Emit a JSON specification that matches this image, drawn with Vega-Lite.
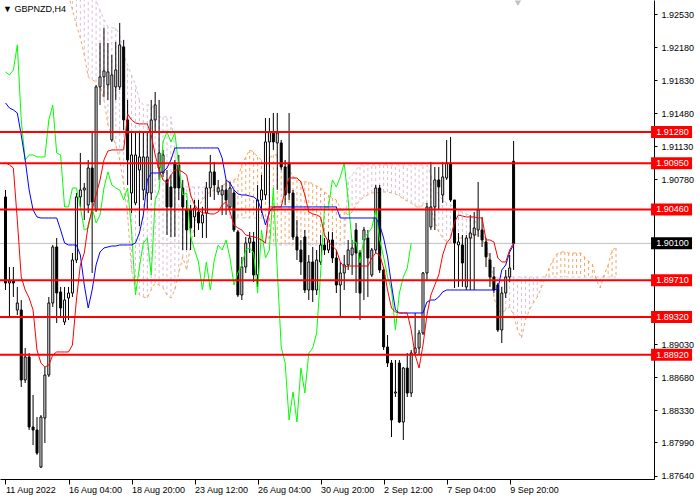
{
"$schema": "https://vega.github.io/schema/vega-lite/v6.json",
"width": 654, "height": 479,
"autosize": {"type": "none"},
"padding": {"left": 0, "top": 0, "right": 46, "bottom": 21},
"background": "white",
"title": {"text": "▼ GBPNZD,H4", "anchor": "start", "offset": -23, "dx": 4, "fontSize": 9, "fontWeight": "normal", "font": "Liberation Sans", "color": "black", "baseline": "bottom"},
"config": {"view": {"stroke": null}, "axis": {"grid": false, "domainColor": "black", "tickColor": "black", "labelColor": "black", "labelFont": "Liberation Sans", "labelFontSize": 9, "title": null, "labelOverlap": false}, "axisRight": {"labelOverlap": false, "labelFlush": false}},
"datasets": {
"candles": [
{"k":0,"o":1.90592,"h":1.90666,"l":1.89606,"c":1.89680},
{"k":1,"o":1.89680,"h":1.89850,"l":1.89320,"c":1.89701},
{"k":2,"o":1.89701,"h":1.89850,"l":1.89532,"c":1.89680},
{"k":3,"o":1.89394,"h":1.89638,"l":1.89341,"c":1.89468},
{"k":4,"o":1.89394,"h":1.89500,"l":1.88578,"c":1.88652},
{"k":5,"o":1.88652,"h":1.88991,"l":1.88620,"c":1.88896},
{"k":6,"o":1.88896,"h":1.88938,"l":1.88122,"c":1.88154},
{"k":7,"o":1.88154,"h":1.88493,"l":1.87963,"c":1.88122},
{"k":8,"o":1.88122,"h":1.88260,"l":1.87858,"c":1.87878},
{"k":9,"o":1.87730,"h":1.88281,"l":1.87719,"c":1.88260},
{"k":10,"o":1.88249,"h":1.88790,"l":1.87984,"c":1.88705},
{"k":11,"o":1.88705,"h":1.89532,"l":1.88684,"c":1.89468},
{"k":12,"o":1.89468,"h":1.90083,"l":1.89426,"c":1.90062},
{"k":13,"o":1.90062,"h":1.90157,"l":1.89256,"c":1.89574},
{"k":14,"o":1.89585,"h":1.89638,"l":1.89320,"c":1.89415},
{"k":15,"o":1.89267,"h":1.89638,"l":1.89235,"c":1.89500},
{"k":16,"o":1.89521,"h":1.89638,"l":1.89288,"c":1.89574},
{"k":17,"o":1.89574,"h":1.89998,"l":1.89532,"c":1.89924},
{"k":18,"o":1.89924,"h":1.90634,"l":1.89892,"c":1.90592},
{"k":19,"o":1.90592,"h":1.91058,"l":1.90486,"c":1.90666},
{"k":20,"o":1.90666,"h":1.90740,"l":1.90348,"c":1.90687},
{"k":21,"o":1.90507,"h":1.90984,"l":1.90422,"c":1.90899},
{"k":22,"o":1.90899,"h":1.91281,"l":1.89786,"c":1.90539},
{"k":23,"o":1.90454,"h":1.91779,"l":1.90433,"c":1.91758},
{"k":24,"o":1.91758,"h":1.92224,"l":1.91567,"c":1.91864},
{"k":25,"o":1.91864,"h":1.92383,"l":1.91652,"c":1.91927},
{"k":26,"o":1.91779,"h":1.92224,"l":1.91620,"c":1.91917},
{"k":27,"o":1.91196,"h":1.92097,"l":1.91175,"c":1.91885},
{"k":28,"o":1.91758,"h":1.92235,"l":1.91620,"c":1.91938},
{"k":29,"o":1.91758,"h":1.92436,"l":1.91726,"c":1.92203},
{"k":30,"o":1.92182,"h":1.92256,"l":1.91302,"c":1.91408},
{"k":31,"o":1.91408,"h":1.91620,"l":1.90719,"c":1.90984},
{"k":32,"o":1.90634,"h":1.91270,"l":1.90422,"c":1.91037},
{"k":33,"o":1.90528,"h":1.91270,"l":1.90507,"c":1.91037},
{"k":34,"o":1.90878,"h":1.91270,"l":1.90284,"c":1.91016},
{"k":35,"o":1.90666,"h":1.91270,"l":1.90560,"c":1.91016},
{"k":36,"o":1.90634,"h":1.91270,"l":1.90454,"c":1.91016},
{"k":37,"o":1.90634,"h":1.91620,"l":1.90560,"c":1.91408},
{"k":38,"o":1.91408,"h":1.91705,"l":1.91281,"c":1.91567},
{"k":39,"o":1.90899,"h":1.91620,"l":1.90772,"c":1.91058},
{"k":40,"o":1.90846,"h":1.91090,"l":1.90804,"c":1.91037},
{"k":41,"o":1.90772,"h":1.90878,"l":1.90189,"c":1.90486},
{"k":42,"o":1.90698,"h":1.90825,"l":1.90168,"c":1.90486},
{"k":43,"o":1.90952,"h":1.90984,"l":1.90168,"c":1.90687},
{"k":44,"o":1.90931,"h":1.91037,"l":1.90560,"c":1.90687},
{"k":45,"o":1.90687,"h":1.90772,"l":1.90030,"c":1.90486},
{"k":46,"o":1.90454,"h":1.90560,"l":1.90030,"c":1.90242},
{"k":47,"o":1.90454,"h":1.90507,"l":1.90030,"c":1.90263},
{"k":48,"o":1.90380,"h":1.90560,"l":1.90168,"c":1.90475},
{"k":49,"o":1.90433,"h":1.90560,"l":1.90242,"c":1.90316},
{"k":50,"o":1.90316,"h":1.90486,"l":1.90157,"c":1.90401},
{"k":51,"o":1.90422,"h":1.90751,"l":1.90157,"c":1.90687},
{"k":52,"o":1.90687,"h":1.91037,"l":1.90592,"c":1.90857},
{"k":53,"o":1.90857,"h":1.90963,"l":1.90560,"c":1.90719},
{"k":54,"o":1.90645,"h":1.90772,"l":1.90613,"c":1.90687},
{"k":55,"o":1.90613,"h":1.90719,"l":1.90401,"c":1.90666},
{"k":56,"o":1.90666,"h":1.90772,"l":1.90401,"c":1.90560},
{"k":57,"o":1.90486,"h":1.90751,"l":1.90454,"c":1.90687},
{"k":58,"o":1.90634,"h":1.90666,"l":1.90221,"c":1.90242},
{"k":59,"o":1.90221,"h":1.90242,"l":1.89532,"c":1.89553},
{"k":60,"o":1.89553,"h":1.89956,"l":1.89500,"c":1.89850},
{"k":61,"o":1.89850,"h":1.90168,"l":1.89786,"c":1.90104},
{"k":62,"o":1.90104,"h":1.90221,"l":1.89998,"c":1.90157},
{"k":63,"o":1.90115,"h":1.90221,"l":1.89691,"c":1.89765},
{"k":64,"o":1.89765,"h":1.90719,"l":1.89638,"c":1.90560},
{"k":65,"o":1.90560,"h":1.90825,"l":1.90422,"c":1.90666},
{"k":66,"o":1.90613,"h":1.91429,"l":1.90560,"c":1.91175},
{"k":67,"o":1.91175,"h":1.91429,"l":1.90454,"c":1.91281},
{"k":68,"o":1.91281,"h":1.91482,"l":1.91090,"c":1.91175},
{"k":69,"o":1.91164,"h":1.91482,"l":1.90666,"c":1.91270},
{"k":70,"o":1.91164,"h":1.91196,"l":1.90878,"c":1.90910},
{"k":71,"o":1.90910,"h":1.90984,"l":1.90507,"c":1.90613},
{"k":72,"o":1.90952,"h":1.91482,"l":1.90560,"c":1.90634},
{"k":73,"o":1.90634,"h":1.90666,"l":1.90136,"c":1.90168},
{"k":74,"o":1.90168,"h":1.90348,"l":1.89924,"c":1.90030},
{"k":75,"o":1.90030,"h":1.90136,"l":1.89765,"c":1.89903},
{"k":76,"o":1.90168,"h":1.90242,"l":1.89574,"c":1.89606},
{"k":77,"o":1.89606,"h":1.89977,"l":1.89500,"c":1.89903},
{"k":78,"o":1.89903,"h":1.90062,"l":1.89479,"c":1.89606},
{"k":79,"o":1.89606,"h":1.90030,"l":1.89553,"c":1.89924},
{"k":80,"o":1.89903,"h":1.90189,"l":1.89871,"c":1.90083},
{"k":81,"o":1.90083,"h":1.90157,"l":1.89977,"c":1.90030},
{"k":82,"o":1.90030,"h":1.90221,"l":1.89998,"c":1.90136},
{"k":83,"o":1.90136,"h":1.90221,"l":1.89892,"c":1.89945},
{"k":84,"o":1.89945,"h":1.90030,"l":1.89574,"c":1.89659},
{"k":85,"o":1.89659,"h":1.89903,"l":1.89320,"c":1.89786},
{"k":86,"o":1.89786,"h":1.89977,"l":1.89606,"c":1.89871},
{"k":87,"o":1.89871,"h":1.90136,"l":1.89818,"c":1.90030},
{"k":88,"o":1.89977,"h":1.90136,"l":1.89765,"c":1.90051},
{"k":89,"o":1.90242,"h":1.90316,"l":1.89574,"c":1.89998},
{"k":90,"o":1.89998,"h":1.90030,"l":1.89288,"c":1.89574},
{"k":91,"o":1.90136,"h":1.90274,"l":1.89500,"c":1.90242},
{"k":92,"o":1.90157,"h":1.90242,"l":1.89532,"c":1.89945},
{"k":93,"o":1.89765,"h":1.90051,"l":1.89744,"c":1.90030},
{"k":94,"o":1.90030,"h":1.90719,"l":1.89998,"c":1.90687},
{"k":95,"o":1.90687,"h":1.90719,"l":1.89786,"c":1.89818},
{"k":96,"o":1.89818,"h":1.89850,"l":1.88970,"c":1.89002},
{"k":97,"o":1.89002,"h":1.89129,"l":1.88790,"c":1.88832},
{"k":98,"o":1.88832,"h":1.88864,"l":1.88048,"c":1.88228},
{"k":99,"o":1.88514,"h":1.88864,"l":1.88472,"c":1.88525},
{"k":100,"o":1.88832,"h":1.88864,"l":1.88196,"c":1.88207},
{"k":101,"o":1.88207,"h":1.88790,"l":1.88016,"c":1.88779},
{"k":102,"o":1.88779,"h":1.88938,"l":1.88472,"c":1.88514},
{"k":103,"o":1.88514,"h":1.88970,"l":1.88472,"c":1.88938},
{"k":104,"o":1.88938,"h":1.89362,"l":1.88917,"c":1.88991},
{"k":105,"o":1.88991,"h":1.89182,"l":1.88917,"c":1.89150},
{"k":106,"o":1.89150,"h":1.89797,"l":1.89129,"c":1.89786},
{"k":107,"o":1.89786,"h":1.90528,"l":1.89712,"c":1.90486},
{"k":108,"o":1.90274,"h":1.90963,"l":1.90242,"c":1.90486},
{"k":109,"o":1.90486,"h":1.90910,"l":1.90242,"c":1.90772},
{"k":110,"o":1.90772,"h":1.90910,"l":1.90454,"c":1.90698},
{"k":111,"o":1.90613,"h":1.90963,"l":1.90528,"c":1.90804},
{"k":112,"o":1.90793,"h":1.91196,"l":1.90772,"c":1.90952},
{"k":113,"o":1.90952,"h":1.91228,"l":1.90539,"c":1.90560},
{"k":114,"o":1.90560,"h":1.90560,"l":1.89627,"c":1.90104},
{"k":115,"o":1.90083,"h":1.90210,"l":1.89638,"c":1.90115},
{"k":116,"o":1.90083,"h":1.90189,"l":1.89638,"c":1.89892},
{"k":117,"o":1.89638,"h":1.90189,"l":1.89606,"c":1.90157},
{"k":118,"o":1.90157,"h":1.90401,"l":1.89606,"c":1.90210},
{"k":119,"o":1.90189,"h":1.90433,"l":1.89606,"c":1.90263},
{"k":120,"o":1.90242,"h":1.90751,"l":1.90168,"c":1.90454},
{"k":121,"o":1.90242,"h":1.90380,"l":1.90062,"c":1.90136},
{"k":122,"o":1.90115,"h":1.90157,"l":1.89850,"c":1.89956},
{"k":123,"o":1.89924,"h":1.89998,"l":1.89638,"c":1.89744},
{"k":124,"o":1.89744,"h":1.89850,"l":1.89574,"c":1.89606},
{"k":125,"o":1.89659,"h":1.89680,"l":1.89161,"c":1.89182},
{"k":126,"o":1.89182,"h":1.89638,"l":1.89044,"c":1.89574},
{"k":127,"o":1.89574,"h":1.89818,"l":1.89521,"c":1.89744},
{"k":128,"o":1.89744,"h":1.89977,"l":1.89691,"c":1.89839},
{"k":129,"o":1.90970,"h":1.91185,"l":1.89818,"c":1.90100}
],
"ichi": [
{"k":0,"t":1.90952,"kj":1.91588,"ch":1.91917},
{"k":1,"t":1.90931,"kj":1.91535,"ch":1.91885},
{"k":2,"t":1.90899,"kj":1.91514,"ch":1.91938},
{"k":3,"t":1.90348,"kj":1.91482,"ch":1.92203},
{"k":4,"t":1.89744,"kj":1.91249,"ch":1.91408},
{"k":5,"t":1.89606,"kj":1.90984,"ch":1.90984},
{"k":6,"t":1.89521,"kj":1.90666,"ch":1.91037},
{"k":7,"t":1.89394,"kj":1.90454,"ch":1.91037},
{"k":8,"t":1.88970,"kj":1.90380,"ch":1.91016},
{"k":9,"t":1.88832,"kj":1.90369,"ch":1.91016},
{"k":10,"t":1.88790,"kj":1.90369,"ch":1.91016},
{"k":11,"t":1.88811,"kj":1.90369,"ch":1.91408},
{"k":12,"t":1.88917,"kj":1.90369,"ch":1.91567},
{"k":13,"t":1.88949,"kj":1.90369,"ch":1.91058},
{"k":14,"t":1.88949,"kj":1.90242,"ch":1.91037},
{"k":15,"t":1.88949,"kj":1.90104,"ch":1.90486},
{"k":16,"t":1.88949,"kj":1.90083,"ch":1.90486},
{"k":17,"t":1.89023,"kj":1.90083,"ch":1.90687},
{"k":18,"t":1.89500,"kj":1.90083,"ch":1.90687},
{"k":19,"t":1.89871,"kj":1.89977,"ch":1.90486},
{"k":20,"t":1.89998,"kj":1.89659,"ch":1.90242},
{"k":21,"t":1.90295,"kj":1.89415,"ch":1.90263},
{"k":22,"t":1.90454,"kj":1.89606,"ch":1.90475},
{"k":23,"t":1.90613,"kj":1.89871,"ch":1.90316},
{"k":24,"t":1.90772,"kj":1.90009,"ch":1.90401},
{"k":25,"t":1.90984,"kj":1.90051,"ch":1.90687},
{"k":26,"t":1.91079,"kj":1.90062,"ch":1.90857},
{"k":27,"t":1.91090,"kj":1.90072,"ch":1.90719},
{"k":28,"t":1.91090,"kj":1.90072,"ch":1.90687},
{"k":29,"t":1.91090,"kj":1.90083,"ch":1.90666},
{"k":30,"t":1.91090,"kj":1.90083,"ch":1.90560},
{"k":31,"t":1.91472,"kj":1.90083,"ch":1.90687},
{"k":32,"t":1.91408,"kj":1.90083,"ch":1.90242},
{"k":33,"t":1.91376,"kj":1.90104,"ch":1.89553},
{"k":34,"t":1.91366,"kj":1.90210,"ch":1.89850},
{"k":35,"t":1.91366,"kj":1.90401,"ch":1.90104},
{"k":36,"t":1.91366,"kj":1.90772,"ch":1.90157},
{"k":37,"t":1.91249,"kj":1.90846,"ch":1.89765},
{"k":38,"t":1.91037,"kj":1.90846,"ch":1.90560},
{"k":39,"t":1.90878,"kj":1.90846,"ch":1.90666},
{"k":40,"t":1.90772,"kj":1.90857,"ch":1.91175},
{"k":41,"t":1.90740,"kj":1.90899,"ch":1.91281},
{"k":42,"t":1.90825,"kj":1.90984,"ch":1.91175},
{"k":43,"t":1.90878,"kj":1.91111,"ch":1.91270},
{"k":44,"t":1.90878,"kj":1.91111,"ch":1.90910},
{"k":45,"t":1.90857,"kj":1.91111,"ch":1.90613},
{"k":46,"t":1.90825,"kj":1.91111,"ch":1.90634},
{"k":47,"t":1.90613,"kj":1.91111,"ch":1.90168},
{"k":48,"t":1.90507,"kj":1.91111,"ch":1.90030},
{"k":49,"t":1.90454,"kj":1.91111,"ch":1.89903},
{"k":50,"t":1.90422,"kj":1.91111,"ch":1.89606},
{"k":51,"t":1.90422,"kj":1.91111,"ch":1.89903},
{"k":52,"t":1.90412,"kj":1.91111,"ch":1.89606},
{"k":53,"t":1.90412,"kj":1.91111,"ch":1.89924},
{"k":54,"t":1.90433,"kj":1.91111,"ch":1.90083},
{"k":55,"t":1.90507,"kj":1.91005,"ch":1.90030},
{"k":56,"t":1.90539,"kj":1.90772,"ch":1.90136},
{"k":57,"t":1.90433,"kj":1.90740,"ch":1.89945},
{"k":58,"t":1.90295,"kj":1.90666,"ch":1.89659},
{"k":59,"t":1.90263,"kj":1.90624,"ch":1.89786},
{"k":60,"t":1.90242,"kj":1.90613,"ch":1.89871},
{"k":61,"t":1.90189,"kj":1.90613,"ch":1.90030},
{"k":62,"t":1.90178,"kj":1.90602,"ch":1.90051},
{"k":63,"t":1.90168,"kj":1.90592,"ch":1.89998},
{"k":64,"t":1.90157,"kj":1.90560,"ch":1.89574},
{"k":65,"t":1.90136,"kj":1.90454,"ch":1.90242},
{"k":66,"t":1.90104,"kj":1.90295,"ch":1.89945},
{"k":67,"t":1.90486,"kj":1.90433,"ch":1.90030},
{"k":68,"t":1.90486,"kj":1.90486,"ch":1.90687},
{"k":69,"t":1.90486,"kj":1.90486,"ch":1.89818},
{"k":70,"t":1.90486,"kj":1.90486,"ch":1.89002},
{"k":71,"t":1.90666,"kj":1.90486,"ch":1.88832},
{"k":72,"t":1.90793,"kj":1.90486,"ch":1.88228},
{"k":73,"t":1.90793,"kj":1.90486,"ch":1.88525},
{"k":74,"t":1.90793,"kj":1.90486,"ch":1.88207},
{"k":75,"t":1.90751,"kj":1.90486,"ch":1.88779},
{"k":76,"t":1.90613,"kj":1.90486,"ch":1.88514},
{"k":77,"t":1.90433,"kj":1.90486,"ch":1.88938},
{"k":78,"t":1.90412,"kj":1.90486,"ch":1.88991},
{"k":79,"t":1.90401,"kj":1.90486,"ch":1.89150},
{"k":80,"t":1.90380,"kj":1.90486,"ch":1.89786},
{"k":81,"t":1.90189,"kj":1.90486,"ch":1.90486},
{"k":82,"t":1.90115,"kj":1.90486,"ch":1.90486},
{"k":83,"t":1.90072,"kj":1.90486,"ch":1.90772},
{"k":84,"t":1.90030,"kj":1.90486,"ch":1.90698},
{"k":85,"t":1.89903,"kj":1.90369,"ch":1.90804},
{"k":86,"t":1.89850,"kj":1.90369,"ch":1.90952},
{"k":87,"t":1.89860,"kj":1.90369,"ch":1.90560},
{"k":88,"t":1.89860,"kj":1.90369,"ch":1.90104},
{"k":89,"t":1.89860,"kj":1.90369,"ch":1.90115},
{"k":90,"t":1.89860,"kj":1.90369,"ch":1.89892},
{"k":91,"t":1.89860,"kj":1.90369,"ch":1.90157},
{"k":92,"t":1.89860,"kj":1.90369,"ch":1.90210},
{"k":93,"t":1.89945,"kj":1.90369,"ch":1.90263},
{"k":94,"t":1.89998,"kj":1.90369,"ch":1.90454},
{"k":95,"t":1.89977,"kj":1.90295,"ch":1.90136},
{"k":96,"t":1.89839,"kj":1.90157,"ch":1.89956},
{"k":97,"t":1.89606,"kj":1.89956,"ch":1.89744},
{"k":98,"t":1.89415,"kj":1.89659,"ch":1.89606},
{"k":99,"t":1.89373,"kj":1.89394,"ch":1.89182},
{"k":100,"t":1.89362,"kj":1.89362,"ch":1.89574},
{"k":101,"t":1.89362,"kj":1.89362,"ch":1.89744},
{"k":102,"t":1.89362,"kj":1.89362,"ch":1.89839},
{"k":103,"t":1.89182,"kj":1.89362,"ch":1.90100},
{"k":104,"t":1.88917,"kj":1.89362},
{"k":105,"t":1.88779,"kj":1.89362},
{"k":106,"t":1.89023,"kj":1.89362},
{"k":107,"t":1.89341,"kj":1.89479},
{"k":108,"t":1.89553,"kj":1.89500},
{"k":109,"t":1.89659,"kj":1.89500},
{"k":110,"t":1.89765,"kj":1.89532},
{"k":111,"t":1.89977,"kj":1.89585},
{"k":112,"t":1.90104,"kj":1.89606},
{"k":113,"t":1.90157,"kj":1.89606},
{"k":114,"t":1.90327,"kj":1.89606},
{"k":115,"t":1.90401,"kj":1.89606},
{"k":116,"t":1.90390,"kj":1.89606},
{"k":117,"t":1.90380,"kj":1.89606},
{"k":118,"t":1.90380,"kj":1.89606},
{"k":119,"t":1.90380,"kj":1.89606},
{"k":120,"t":1.90369,"kj":1.89606},
{"k":121,"t":1.90369,"kj":1.89606},
{"k":122,"t":1.90136,"kj":1.89606},
{"k":123,"t":1.90136,"kj":1.89606},
{"k":124,"t":1.90115,"kj":1.89606},
{"k":125,"t":1.89945,"kj":1.89617},
{"k":126,"t":1.89903,"kj":1.89818},
{"k":127,"t":1.89903,"kj":1.89871},
{"k":128,"t":1.90030,"kj":1.90009},
{"k":129,"t":1.90104,"kj":1.90083}
],
"cloud": [
{"k":16,"a":1.92733,"b":1.93104},
{"k":17,"a":1.92574,"b":1.93104},
{"k":18,"a":1.92415,"b":1.93051},
{"k":19,"a":1.92277,"b":1.92998},
{"k":20,"a":1.92097,"b":1.92945},
{"k":21,"a":1.91864,"b":1.92892},
{"k":22,"a":1.91832,"b":1.92786},
{"k":23,"a":1.91811,"b":1.92680},
{"k":24,"a":1.91779,"b":1.92574},
{"k":25,"a":1.91620,"b":1.92468},
{"k":26,"a":1.91355,"b":1.92394},
{"k":27,"a":1.91249,"b":1.92383},
{"k":28,"a":1.91143,"b":1.92383},
{"k":29,"a":1.90984,"b":1.92309},
{"k":30,"a":1.90719,"b":1.92097},
{"k":31,"a":1.90401,"b":1.91991},
{"k":32,"a":1.89818,"b":1.91885},
{"k":33,"a":1.89606,"b":1.91779},
{"k":34,"a":1.89553,"b":1.91620},
{"k":35,"a":1.89532,"b":1.91567},
{"k":36,"a":1.89521,"b":1.91567},
{"k":37,"a":1.89606,"b":1.91567},
{"k":38,"a":1.89680,"b":1.91514},
{"k":39,"a":1.89659,"b":1.91440},
{"k":40,"a":1.89627,"b":1.91440},
{"k":41,"a":1.89553,"b":1.91440},
{"k":42,"a":1.89521,"b":1.91440},
{"k":43,"a":1.89606,"b":1.91090},
{"k":44,"a":1.89786,"b":1.90698},
{"k":45,"a":1.89956,"b":1.90698},
{"k":46,"a":1.89818,"b":1.90698},
{"k":47,"a":1.90083,"b":1.90698},
{"k":48,"a":1.90295,"b":1.90698},
{"k":49,"a":1.90486,"b":1.90698},
{"k":50,"a":1.90560,"b":1.90698},
{"k":51,"a":1.90613,"b":1.90698},
{"k":52,"a":1.90645,"b":1.90698},
{"k":53,"a":1.90666,"b":1.90698},
{"k":54,"a":1.90687,"b":1.90698},
{"k":55,"a":1.90708,"b":1.90698},
{"k":56,"a":1.90740,"b":1.90698},
{"k":57,"a":1.90761,"b":1.90369},
{"k":58,"a":1.90772,"b":1.90369},
{"k":59,"a":1.90793,"b":1.90369},
{"k":60,"a":1.90931,"b":1.90369},
{"k":61,"a":1.91016,"b":1.90369},
{"k":62,"a":1.91090,"b":1.90369},
{"k":63,"a":1.91069,"b":1.90369},
{"k":64,"a":1.91016,"b":1.90369},
{"k":65,"a":1.90984,"b":1.90369},
{"k":66,"a":1.90984,"b":1.90369},
{"k":67,"a":1.91005,"b":1.90083},
{"k":68,"a":1.91037,"b":1.90083},
{"k":69,"a":1.91037,"b":1.90083},
{"k":70,"a":1.91005,"b":1.90083},
{"k":71,"a":1.90963,"b":1.90083},
{"k":72,"a":1.90878,"b":1.90083},
{"k":73,"a":1.90814,"b":1.90083},
{"k":74,"a":1.90772,"b":1.90083},
{"k":75,"a":1.90761,"b":1.90083},
{"k":76,"a":1.90751,"b":1.90083},
{"k":77,"a":1.90751,"b":1.90083},
{"k":78,"a":1.90730,"b":1.90083},
{"k":79,"a":1.90708,"b":1.90083},
{"k":80,"a":1.90687,"b":1.90083},
{"k":81,"a":1.90645,"b":1.90083},
{"k":82,"a":1.90613,"b":1.90083},
{"k":83,"a":1.90581,"b":1.90083},
{"k":84,"a":1.90560,"b":1.90083},
{"k":85,"a":1.90475,"b":1.90083},
{"k":86,"a":1.90433,"b":1.90083},
{"k":87,"a":1.90401,"b":1.90772},
{"k":88,"a":1.90433,"b":1.90825},
{"k":89,"a":1.90507,"b":1.90878},
{"k":90,"a":1.90560,"b":1.90931},
{"k":91,"a":1.90592,"b":1.90931},
{"k":92,"a":1.90613,"b":1.90931},
{"k":93,"a":1.90634,"b":1.90931},
{"k":94,"a":1.90634,"b":1.90931},
{"k":95,"a":1.90645,"b":1.90931},
{"k":96,"a":1.90645,"b":1.90931},
{"k":97,"a":1.90645,"b":1.90931},
{"k":98,"a":1.90634,"b":1.90931},
{"k":99,"a":1.90624,"b":1.90931},
{"k":100,"a":1.90602,"b":1.90931},
{"k":101,"a":1.90571,"b":1.90931},
{"k":102,"a":1.90549,"b":1.90931},
{"k":103,"a":1.90528,"b":1.90931},
{"k":104,"a":1.90496,"b":1.90931},
{"k":105,"a":1.90475,"b":1.90931},
{"k":106,"a":1.90507,"b":1.90931},
{"k":107,"a":1.90528,"b":1.90931},
{"k":108,"a":1.90454,"b":1.90825},
{"k":109,"a":1.90327,"b":1.90698},
{"k":110,"a":1.90221,"b":1.90613},
{"k":111,"a":1.90157,"b":1.90560},
{"k":112,"a":1.90115,"b":1.90528},
{"k":113,"a":1.90104,"b":1.90507},
{"k":114,"a":1.90136,"b":1.90486},
{"k":115,"a":1.90157,"b":1.90454},
{"k":116,"a":1.90157,"b":1.90433},
{"k":117,"a":1.90136,"b":1.90412},
{"k":118,"a":1.90136,"b":1.90390},
{"k":119,"a":1.90178,"b":1.90348},
{"k":120,"a":1.90200,"b":1.90284},
{"k":121,"a":1.90157,"b":1.90221},
{"k":122,"a":1.90051,"b":1.90136},
{"k":123,"a":1.89871,"b":1.89903},
{"k":124,"a":1.89532,"b":1.89744},
{"k":125,"a":1.89394,"b":1.89744},
{"k":126,"a":1.89362,"b":1.89744},
{"k":127,"a":1.89394,"b":1.89744},
{"k":128,"a":1.89426,"b":1.89744},
{"k":129,"a":1.89341,"b":1.89744},
{"k":130,"a":1.89182,"b":1.89744},
{"k":131,"a":1.89097,"b":1.89744},
{"k":132,"a":1.89288,"b":1.89744},
{"k":133,"a":1.89394,"b":1.89744},
{"k":134,"a":1.89468,"b":1.89744},
{"k":135,"a":1.89532,"b":1.89744},
{"k":136,"a":1.89627,"b":1.89744},
{"k":137,"a":1.89733,"b":1.89744},
{"k":138,"a":1.89839,"b":1.89744},
{"k":139,"a":1.89924,"b":1.89744},
{"k":140,"a":1.89988,"b":1.89744},
{"k":141,"a":1.90009,"b":1.89744},
{"k":142,"a":1.90009,"b":1.89744},
{"k":143,"a":1.89998,"b":1.89744},
{"k":144,"a":1.89998,"b":1.89744},
{"k":145,"a":1.89998,"b":1.89744},
{"k":146,"a":1.89998,"b":1.89744},
{"k":147,"a":1.89956,"b":1.89744},
{"k":148,"a":1.89913,"b":1.89744},
{"k":149,"a":1.89882,"b":1.89744},
{"k":150,"a":1.89712,"b":1.89744},
{"k":151,"a":1.89627,"b":1.89744},
{"k":152,"a":1.89765,"b":1.89744},
{"k":153,"a":1.89871,"b":1.89744},
{"k":154,"a":1.90030,"b":1.89744},
{"k":155,"a":1.90051,"b":1.89744}
],
"levels": [{"p":1.9128},{"p":1.9095},{"p":1.9046},{"p":1.8971},{"p":1.8932},{"p":1.8892}],
"bid": [{"p":1.901}]
},
"layer": [
{"data": {"name": "cloud"}, "mark": {"type": "rule", "strokeDash": [3, 3], "strokeWidth": 1, "clip": true},
 "encoding": {
  "x": {"field": "k", "type": "quantitative", "scale": {"domain": [-0.125, 163.375], "nice": false, "zero": false},
        "axis": {"orient": "bottom", "values": [0, 16, 32, 48, 64, 80, 96, 112, 128], "tickSize": 5, "labelAlign": "left", "labelBaseline": "top", "labelPadding": 1, "labelFlush": false, "labelOverlap": false, "labelBound": false,
                 "labelExpr": "['11 Aug 2022','16 Aug 04:00','18 Aug 20:00','23 Aug 12:00','26 Aug 04:00','30 Aug 20:00','2 Sep 12:00','7 Sep 04:00','9 Sep 20:00'][round(datum.value/16)]"}},
  "y": {"field": "a", "type": "quantitative", "scale": {"domain": [1.87603, 1.92679], "nice": false, "zero": false},
        "axis": {"orient": "right", "values": [1.9253, 1.9218, 1.9183, 1.9148, 1.9113, 1.9078, 1.8903, 1.8868, 1.8833, 1.8799, 1.8764], "format": ".5f", "tickSize": 3, "labelPadding": 4, "labelOverlap": false, "labelBound": false, "labelFlush": false}},
  "y2": {"field": "b"},
  "color": {"condition": {"test": "datum.a >= datum.b", "value": "#F4A460"}, "value": "#D8BFD8"}}},
{"data": {"name": "cloud"}, "mark": {"type": "line", "color": "#D8BFD8", "strokeDash": [3, 3], "strokeWidth": 1, "clip": true},
 "encoding": {"x": {"field": "k", "type": "quantitative"}, "y": {"field": "b", "type": "quantitative"}}},
{"data": {"name": "cloud"}, "mark": {"type": "line", "color": "#F4A460", "strokeDash": [3, 3], "strokeWidth": 1, "clip": true},
 "encoding": {"x": {"field": "k", "type": "quantitative"}, "y": {"field": "a", "type": "quantitative"}}},
{"data": {"name": "bid"}, "mark": {"type": "rule", "color": "#C0C0C0", "strokeWidth": 1},
 "encoding": {"y": {"field": "p", "type": "quantitative"}}},
{"data": {"name": "candles"}, "mark": {"type": "rule", "color": "black", "strokeWidth": 1, "clip": true},
 "encoding": {"x": {"field": "k", "type": "quantitative"}, "y": {"field": "h", "type": "quantitative"}, "y2": {"field": "l"}}},
{"data": {"name": "candles"}, "mark": {"type": "bar", "width": 2, "stroke": "black", "strokeWidth": 1, "clip": true},
 "encoding": {"x": {"field": "k", "type": "quantitative"}, "y": {"field": "o", "type": "quantitative"}, "y2": {"field": "c"},
  "fill": {"condition": {"test": "datum.c > datum.o", "value": "white"}, "value": "black"}}},
{"data": {"name": "ichi"}, "mark": {"type": "line", "color": "#00FF00", "strokeWidth": 1, "clip": true},
 "encoding": {"x": {"field": "k", "type": "quantitative"}, "y": {"field": "ch", "type": "quantitative"}}},
{"data": {"name": "ichi"}, "mark": {"type": "line", "color": "#0000FF", "strokeWidth": 1, "clip": true},
 "encoding": {"x": {"field": "k", "type": "quantitative"}, "y": {"field": "kj", "type": "quantitative"}}},
{"data": {"name": "ichi"}, "mark": {"type": "line", "color": "#FF0000", "strokeWidth": 1, "clip": true},
 "encoding": {"x": {"field": "k", "type": "quantitative"}, "y": {"field": "t", "type": "quantitative"}}},
{"data": {"name": "levels"}, "mark": {"type": "rule", "color": "#FF0000", "strokeWidth": 2},
 "encoding": {"y": {"field": "p", "type": "quantitative"}}},
{"data": {"name": "levels"}, "mark": {"type": "tick", "orient": "horizontal", "size": 41, "thickness": 12, "color": "#FF0000", "opacity": 1},
 "encoding": {"x": {"datum": 169.1, "type": "quantitative"}, "y": {"field": "p", "type": "quantitative"}}},
{"data": {"name": "levels"}, "mark": {"type": "text", "align": "left", "baseline": "middle", "color": "white", "font": "Liberation Sans", "fontSize": 9},
 "encoding": {"x": {"datum": 165.2, "type": "quantitative"}, "y": {"field": "p", "type": "quantitative"}, "text": {"field": "p", "type": "quantitative", "format": ".5f"}}},
{"data": {"name": "bid"}, "mark": {"type": "tick", "orient": "horizontal", "size": 41, "thickness": 12, "color": "black", "opacity": 1},
 "encoding": {"x": {"datum": 169.1, "type": "quantitative"}, "y": {"field": "p", "type": "quantitative"}}},
{"data": {"name": "bid"}, "mark": {"type": "text", "align": "left", "baseline": "middle", "color": "white", "font": "Liberation Sans", "fontSize": 9},
 "encoding": {"x": {"datum": 165.2, "type": "quantitative"}, "y": {"field": "p", "type": "quantitative"}, "text": {"field": "p", "type": "quantitative", "format": ".5f"}}},
{"data": {"values": [{}]}, "mark": {"type": "point", "shape": "triangle-down", "filled": true, "color": "#C0C0C0", "opacity": 1, "size": 40},
 "encoding": {"x": {"datum": 130.1, "type": "quantitative"}, "y": {"datum": 1.92645, "type": "quantitative"}}}
]
}
